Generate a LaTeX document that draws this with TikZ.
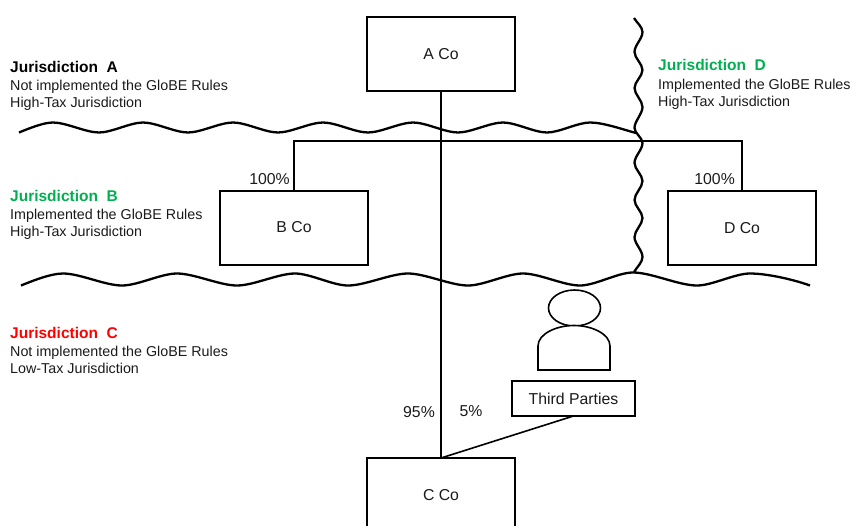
\documentclass[tikz,border=0pt]{standalone}
\usepackage{fontspec}
\setmainfont{Liberation Sans}
\usetikzlibrary{shapes.geometric,calc}
\definecolor{jgreen}{HTML}{00B050}
\definecolor{jred}{HTML}{FF0000}
\definecolor{ink}{HTML}{1A1A1A}
\tikzset{
  cobox/.style={draw=black,line width=2pt,fill=white,minimum width=148pt,minimum height=74pt,inner sep=0pt,outer sep=0pt,font=\fontsize{15.8}{17}\selectfont,text=ink},
  link/.style={draw=black,line width=2pt},
  wave/.style={draw=black,line width=2.3pt},
  hw/.style={out=0,in=180,looseness=0.72},
  vw/.style={out=-90,in=90,looseness=0.8},
  juristext/.style={anchor=north west,inner sep=0pt,align=left,font=\fontsize{14.3}{17}\selectfont,text=ink},
  juristitle/.style={anchor=base west,inner sep=0pt,font=\fontsize{15.5}{17}\selectfont\bfseries},
  pct/.style={inner sep=0pt,font=\fontsize{15.8}{17}\selectfont,text=ink},
}
\begin{document}
\begin{tikzpicture}[x=1pt,y=-1pt]
\useasboundingbox (0,0) rectangle (851,525);
% jurisdiction boundaries
\draw[wave,every to/.style={hw}] (19,132.5) to[out=22] (53,122.5) to (99,132.5) to (143,122.5) to (188,132.5) to (233,122.5) to (278,132.5) to (323,122.5) to (368,132.5) to (413,122.5) to (458,132.5) to (503,122.5) to (547,132.5) to (590,122.5) to[in=165] (636,133);
\draw[wave,every to/.style={hw}] (21,285.5) to[out=22] (63,273.5) to (122,285.5) to (177,273.5) to (237,285.5) to (295,273.5) to (348,285.5) to (408,273.5) to (468,285.5) to (523,273.5) to (580,285.5) to (633,272.5) to (697,285.5) to (750,273.5) to[in=160] (810,285.5);
\draw[wave,every to/.style={vw}] (634,18) to[out=-60] (642.5,32) to (634.5,52) to (642.5,70) to (634.5,88) to (642.5,107) to (634.5,128) to (642.5,143) to (634.5,163) to (642.5,181) to (634.5,200) to (642.5,218) to (634.5,237) to (642.5,257) to[in=60] (634,272);
% companies
\node[cobox] (aco) at (441,54) {A Co};
\node[cobox] (bco) at (294,227.5) {B Co};
\node[cobox] (dco) at (742,228) {D Co};
\node[cobox] (cco) at (441,495) {C Co};
\node[draw=black,line width=1.5pt,fill=white,minimum width=123pt,minimum height=35pt,inner sep=0pt,outer sep=0pt,text depth=0pt,font=\fontsize{15.8}{17}\selectfont,text=ink] (third) at (573.5,398.5) {Third Parties};
% person
\node[draw=black,line width=1.6pt,ellipse,minimum width=52pt,minimum height=36pt,inner sep=0pt] (head) at (574.5,308) {};
\draw[line width=1.6pt,draw=black,fill=white] (538,370) -- (538,346) .. controls (538,334) and (556,325.5) .. (574,325.5) .. controls (592,325.5) and (610,334) .. (610,346) -- (610,370) -- cycle;
% connectors
\coordinate (bus) at (441,141);
\draw[link] (aco.south) -- (cco.north);
\draw[link] (bco.north) |- (bus) -| (dco.north);
\draw[link,line width=1.6pt] (third.south) -- (cco.north);
% labels
\node[pct,anchor=east] (p1) at (290,179.5) {100\%};
\node[pct,anchor=east] (p2) at (735,179.5) {100\%};
\node[pct] (p3) at (419,412.5) {95\%};
\node[pct] (p4) at (471,411.5) {5\%};
% jurisdiction text
\node[juristitle,text=black] (ja) at (10,72.5) {Jurisdiction\ \ A};
\node[juristext] (jat) at (10,80) {Not implemented the GloBE Rules\\High-Tax Jurisdiction};
\node[juristitle,text=jgreen] (jb) at (10,201) {Jurisdiction\ \ B};
\node[juristext] (jbt) at (10,209) {Implemented the GloBE Rules\\High-Tax Jurisdiction};
\node[juristitle,text=jred] (jc) at (10,338.5) {Jurisdiction\ \ C};
\node[juristext] (jct) at (10,346) {Not implemented the GloBE Rules\\Low-Tax Jurisdiction};
\node[juristitle,text=jgreen] (jd) at (658,70.5) {Jurisdiction\ \ D};
\node[juristext] (jdt) at (658,79) {Implemented the GloBE Rules\\High-Tax Jurisdiction};
\end{tikzpicture}
\end{document}
